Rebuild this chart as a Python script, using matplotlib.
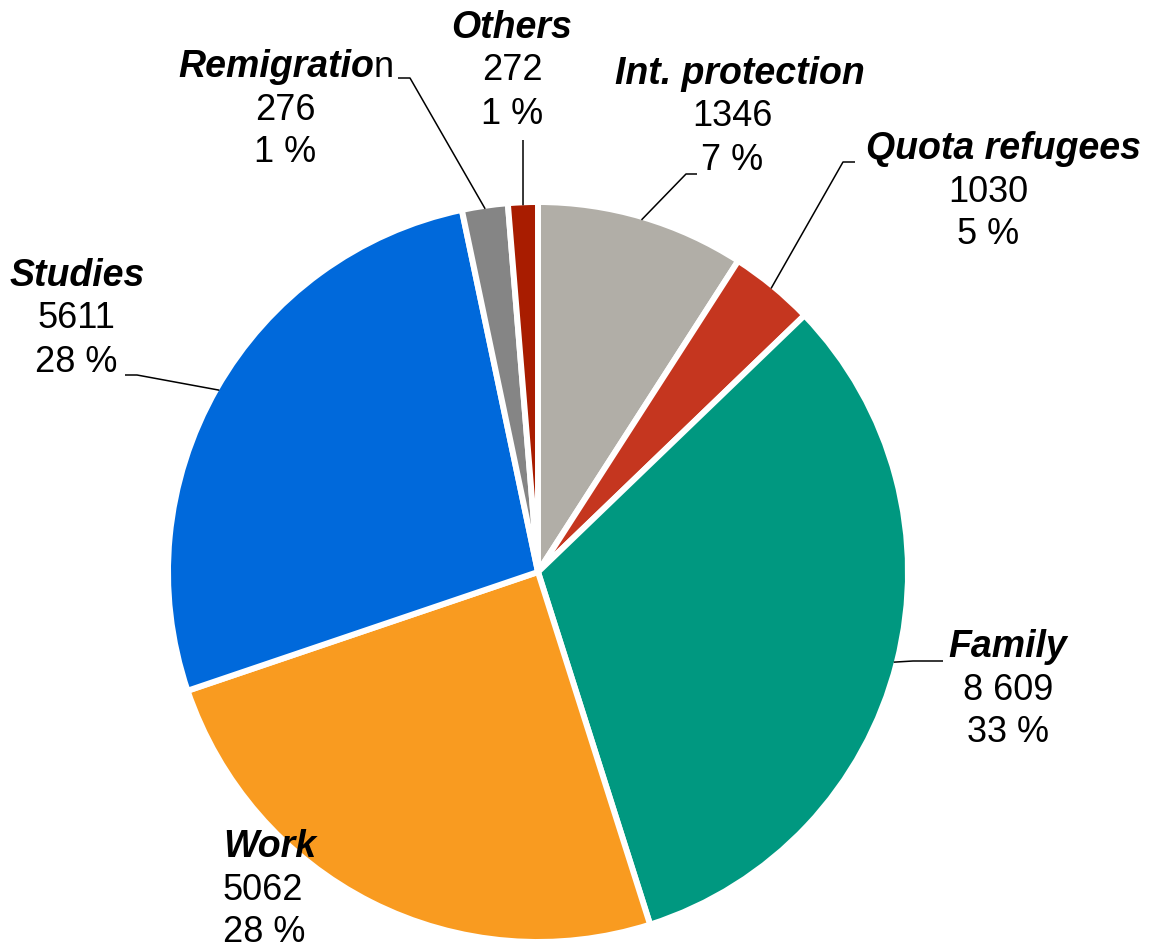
"""Residence permits by grounds - pie chart with outside labels."""

import matplotlib

matplotlib.use("Agg")
import matplotlib.pyplot as plt
import numpy as np

# slice shares as drawn (percent of the circle), clockwise from 12 o'clock
categories = ["Int. protection", "Quota refugees", "Family", "Work",
              "Studies", "Remigration", "Others"]
shares = [9.1, 3.7, 32.3, 24.7, 26.9, 2.0, 1.3]
# numbers printed in the labels
counts = ["1346", "1030", "8 609", "5062", "5611", "276", "272"]
pct_labels = ["7 %", "5 %", "33 %", "28 %", "28 %", "1 %", "1 %"]
# the source only italicises part of "Remigration"
plain_tails = ["", "", "", "", "", "n", ""]

colors = ["#b1aea7", "#c5361f", "#009880", "#f99b20",
          "#0069db", "#858585", "#a81c00"]

W, H = 1151, 950
CX, CY, R = 538, 572, 370          # pixel coords, y measured from top
FS = 26
FS_NAME = 27
LINE = 43                           # label line spacing in px

# label anchor (x, y of first line, ha) and leader line elbow/end, pixel coords
label_layout = [
    (740, 74, "center"),
    (1004, 149, "center"),
    (1008, 647, "center"),
    (223, 847, "left"),
    (77, 276, "center"),
    (286, 67, "center"),
    (512, 28, "center"),
]
leaders = [
    [(686, 174), (697, 174)],
    [(843, 162), (855, 162)],
    [(913, 661), (943, 661)],
    None,
    [(137, 375), (125, 375)],
    [(410, 78), (398, 78)],
    [(523, 140), (523, 140)],
]
# number lines sit slightly off the name centre in a few labels
number_x = [732, 988, 1008, 223, 76, 285, 512]

plt.rcParams["font.family"] = ["Liberation Sans", "DejaVu Sans"]


def Y(y):
    return H - y


fig = plt.figure(figsize=(W / 100, H / 100), dpi=100)
ax = fig.add_axes([0, 0, 1, 1])

wedges, _ = ax.pie(shares, colors=colors, startangle=90, counterclock=False,
                   center=(CX, Y(CY)), radius=R, frame=True,
                   wedgeprops=dict(edgecolor="white", linewidth=4.3))
ax.set_xlim(0, W)
ax.set_ylim(0, H)
ax.set_aspect("equal")
ax.axis("off")

renderer = fig.canvas.get_renderer()

for i, w in enumerate(wedges):
    x, y0, ha = label_layout[i]
    name = categories[i]
    tail = plain_tails[i]
    if tail:
        head = name[: len(name) - len(tail)]
        t1 = ax.text(x, Y(y0), head, ha="left", va="center", fontsize=FS_NAME,
                     fontweight="bold", fontstyle="italic")
        t2 = ax.annotate(tail, xy=(1, 0), xycoords=t1, ha="left", va="bottom",
                         fontsize=FS)
        w1 = t1.get_window_extent(renderer).width
        w2 = t2.get_window_extent(renderer).width
        t1.set_x(x - (w1 + w2) / 2)
    else:
        ax.text(x, Y(y0), name, ha=ha, va="center", fontsize=FS_NAME,
                fontweight="bold", fontstyle="italic")
    nx = number_x[i]
    ax.text(nx, Y(y0 + LINE), counts[i], ha=ha, va="center", fontsize=FS)
    ax.text(nx, Y(y0 + 2 * LINE), pct_labels[i], ha=ha, va="center",
            fontsize=FS)

    if leaders[i] is not None:
        # leader starts on the rim at the wedge's mid angle
        ang = np.deg2rad((w.theta1 + w.theta2) / 2)
        rx = CX + (R - 3) * np.cos(ang)
        ry = Y(CY) + (R - 3) * np.sin(ang)
        xs = [rx] + [p[0] for p in leaders[i]]
        ys = [ry] + [Y(p[1]) for p in leaders[i]]
        ax.plot(xs, ys, color="black", linewidth=1.1, solid_capstyle="butt")

fig.savefig("out.png", dpi=100)
